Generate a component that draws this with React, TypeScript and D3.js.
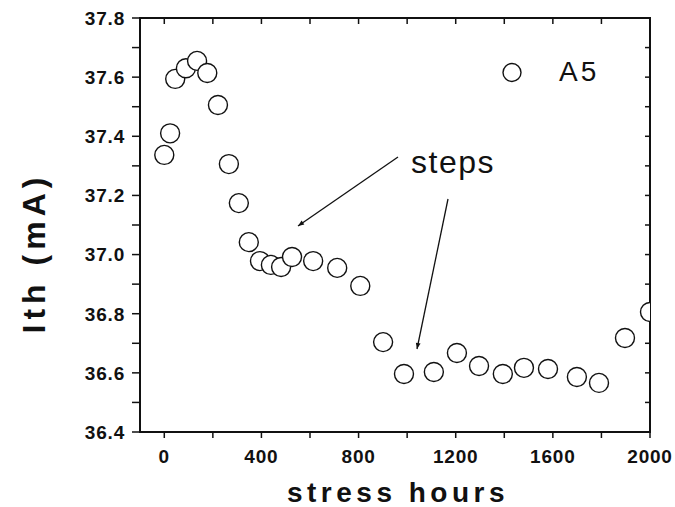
import React from "react";
import * as d3 from "d3";

const hours = [0, 24, 45, 89, 135, 177, 221, 266, 307, 348, 394, 439, 481, 526, 613, 712, 807, 901, 987, 1110, 1205, 1296, 1394, 1481, 1580, 1699, 1790, 1897, 2000];
const ith = [37.337, 37.41, 37.594, 37.63, 37.655, 37.614, 37.506, 37.306, 37.174, 37.042, 36.978, 36.965, 36.958, 36.992, 36.978, 36.955, 36.894, 36.704, 36.596, 36.603, 36.667, 36.623, 36.596, 36.617, 36.613, 36.586, 36.566, 36.718, 36.806];
const xTickLabels = [0, 400, 800, 1200, 1600, 2000];
const yTickLabels = [36.4, 36.6, 36.8, 37.0, 37.2, 37.4, 37.6, 37.8];
const legendLabel = "A5";
const annotationText = "steps";

const W = 675, H = 507;
const L = 140, R = 650, T = 18, B = 432;
const FONT = "'Liberation Sans', Arial, Helvetica, sans-serif";

export default function App() {
  const x = d3.scaleLinear().domain([-100, 2000]).range([L, R]);
  const y = d3.scaleLinear().domain([36.4, 37.8]).range([B, T]);
  const xMinor = d3.range(0, 2001, 200);
  const yMinor = d3.range(0, 15).map((i) => 36.4 + i * 0.1);
  const pts = hours.map((h, i) => ({ h, v: ith[i] }));
  const tick = 8;

  return (
    <svg width={W} height={H} style={{ position: "absolute", left: 0, top: 0, background: "#fff" }}>
      <defs>
        <clipPath id="plot">
          <rect x={L} y={T} width={R - L} height={B - T} />
        </clipPath>
        <marker id="arr" viewBox="0 0 10 10" refX="10" refY="5" markerWidth="9" markerHeight="6" orient="auto" markerUnits="userSpaceOnUse">
          <path d="M0,1 L10,5 L0,9 Z" fill="#111" />
        </marker>
      </defs>
      <rect x={0} y={0} width={W} height={H} fill="#fff" />
      {xMinor.map((v) => (
        <g key={"xt" + v}>
          <line x1={x(v)} x2={x(v)} y1={B} y2={B + 6} stroke="#111" strokeWidth={1.5} />
          <line x1={x(v)} x2={x(v)} y1={T} y2={T + 6} stroke="#111" strokeWidth={1.5} />
        </g>
      ))}
      {yMinor.map((v, i) => (
        <g key={"yt" + i}>
          <line x1={L - tick} x2={L} y1={y(v)} y2={y(v)} stroke="#111" strokeWidth={1.5} />
          <line x1={R - 5} x2={R} y1={y(v)} y2={y(v)} stroke="#111" strokeWidth={1.5} />
        </g>
      ))}
      <rect x={L} y={T} width={R - L} height={B - T} fill="none" stroke="#111" strokeWidth={2} />
      {xTickLabels.map((v) => (
        <text key={"xl" + v} x={x(v)} y={463} textAnchor="middle" fontFamily={FONT} fontWeight="bold" fontSize={19} letterSpacing={0.8} fill="#111">
          {v}
        </text>
      ))}
      {yTickLabels.map((v) => (
        <text key={"yl" + v} x={125} y={y(v)} dy="0.36em" textAnchor="end" fontFamily={FONT} fontWeight="bold" fontSize={19} letterSpacing={0.8} fill="#111">
          {v.toFixed(1)}
        </text>
      ))}
      <text x={398} y={502} textAnchor="middle" fontFamily={FONT} fontWeight="bold" fontSize={28} letterSpacing={4.5} fill="#111">
        stress hours
      </text>
      <text transform={`translate(45,${253}) rotate(-90)`} textAnchor="middle" fontFamily={FONT} fontWeight="bold" fontSize={32} letterSpacing={5} fill="#111">
        Ith (mA)
      </text>
      <g clipPath="url(#plot)">
        {pts.map((p, i) => (
          <circle key={i} cx={x(p.h)} cy={y(p.v)} r={9.5} fill="#fff" stroke="#111" strokeWidth={1.4} />
        ))}
      </g>
      <circle cx={512} cy={72.5} r={9} fill="#fff" stroke="#111" strokeWidth={1.4} />
      <text x={559} y={81} fontFamily={FONT} fontSize={28} letterSpacing={3} fill="#111">
        {legendLabel}
      </text>
      <text x={411} y={173} fontFamily={FONT} fontSize={32} letterSpacing={1.5} fill="#111">
        {annotationText}
      </text>
      <line x1={398} y1={157} x2={298} y2={226} stroke="#111" strokeWidth={1.3} markerEnd="url(#arr)" />
      <line x1={448} y1={199} x2={417} y2={349} stroke="#111" strokeWidth={1.3} markerEnd="url(#arr)" />
    </svg>
  );
}
